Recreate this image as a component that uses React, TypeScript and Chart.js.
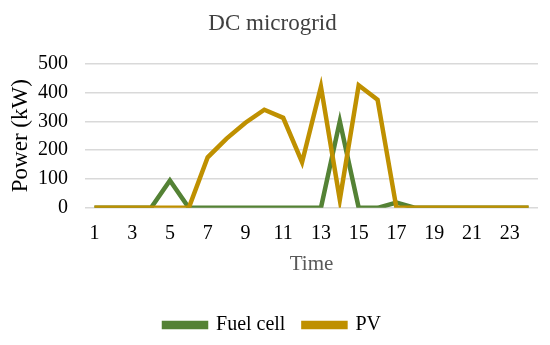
import React, { useEffect, useRef } from "react";
import { Chart, registerables } from "chart.js";

Chart.register(...registerables);

const categories = ["1","2","3","4","5","6","7","8","9","10","11","12","13","14","15","16","17","18","19","20","21","22","23","24"];
const fuelCell = [0,0,0,0,95,0,0,0,0,0,0,0,0,300,0,0,18,0,0,0,0,0,0,0];
const pv = [0,0,0,0,0,0,175,240,295,340,312,158,420,28,425,375,0,0,0,0,0,0,0,0];
const yTicks = [0,100,200,300,400,500];

export default function App() {
  const ref = useRef<HTMLCanvasElement>(null);
  useEffect(() => {
    document.body.style.margin = "0";
    const ctx = ref.current!;
    const serif = "'Liberation Serif', 'Times New Roman', serif";
    const chart = new Chart(ctx, {
      type: "line",
      data: {
        labels: categories,
        datasets: [
          { label: "Fuel cell", data: fuelCell, borderColor: "#548235", backgroundColor: "#548235", borderWidth: 4.5, pointRadius: 0, order: 1, tension: 0 },
          { label: "PV", data: pv, borderColor: "#BF9000", backgroundColor: "#BF9000", borderWidth: 4.5, pointRadius: 0, order: 0, tension: 0 },
        ],
      },
      options: {
        animation: false,
        responsive: false,
        maintainAspectRatio: false,
        layout: { padding: { left: 7, right: 12, top: 6, bottom: 0 } },
        plugins: {
          title: { display: true, text: "DC microgrid", color: "#404040", font: { family: serif, size: 23, weight: "normal" }, padding: { top: 4, bottom: 26 } },
          legend: {
            position: "bottom",
            labels: {
              sort: (a: any, b: any) => a.datasetIndex - b.datasetIndex,
              boxWidth: 42, boxHeight: 4, color: "#000", padding: 18,
              font: { family: serif, size: 20 },
            },
          },
          tooltip: { enabled: false },
        },
        scales: {
          x: {
            offset: true,
            grid: { display: false },
            border: { display: false },
            ticks: { color: "#000", padding: 6, font: { family: serif, size: 20 }, maxRotation: 0, autoSkip: false, callback: (v: any, i: number) => (i % 2 === 0 ? categories[i] : "") },
            title: { display: true, text: "Time", color: "#595959", font: { family: serif, size: 21 }, padding: { top: 0, bottom: 20 } },
          },
          y: {
            min: 0, max: 500,
            afterBuildTicks: (axis: any) => { axis.ticks = yTicks.map((v) => ({ value: v })); },
            afterFit: (axis: any) => { axis.width = 78; },
            grid: { color: "#d9d9d9", lineWidth: 1.5, drawTicks: false },
            border: { display: false },
            ticks: { color: "#000", padding: 17, autoSkip: false, font: { family: serif, size: 20 } },
            title: { display: true, text: "Power (kW)", color: "#000", font: { family: serif, size: 23 }, padding: { top: 0, bottom: 0 } },
          },
        },
      },
    });
    return () => chart.destroy();
  }, []);
  return <canvas ref={ref} width={550} height={345} style={{ display: "block" }} />;
}
